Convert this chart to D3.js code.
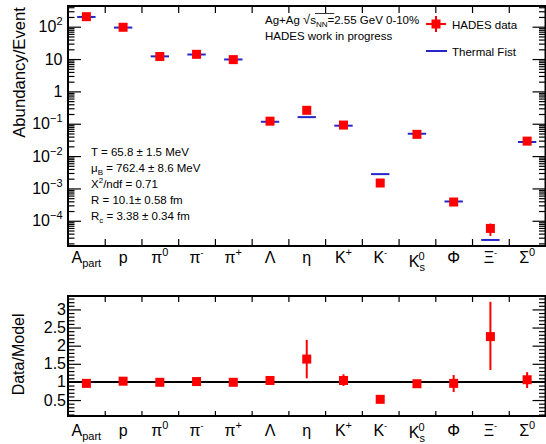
<!DOCTYPE html>
<html><head><meta charset="utf-8">
<script src="https://cdn.jsdelivr.net/npm/d3@7"></script>
<style>body{margin:0;background:#fff} svg{display:block} text{font-family:"Liberation Sans",Arial,Helvetica,sans-serif;fill:#000}</style>
</head><body><svg id="c" width="546" height="444"></svg>
<script>
// ---------------- data ----------------
const categories = ["Apart","p","pi0","pim","pip","Lambda","eta","Kp","Km","K0s","Phi","Xim","Sigma0"];
const catBase = ["A","p","π","π","π","Λ","η","K","K","K","Φ","Ξ","Σ"];
const catSup  = ["","","0","-","+","","","+","-","0","","-","0"];
const catSub  = ["part","","","","","","","","","s","","",""];

const dataYield = [204, 96, 12.0, 14.0, 9.6, 0.12, 0.26, 0.091, 0.00147, 0.047, 0.00038, 0.000058, 0.029];
const dataErr   = [4, 2, 0.4, 0.4, 0.3, 0.005, 0.05, 0.006, 0.0001, 0.002, 0.00003, 0.000024, 0.003];
const modelYield= [200, 94, 12.1, 13.8, 9.7, 0.115, 0.16, 0.087, 0.00277, 0.049, 0.000395, 0.0000255, 0.0272];

const ratio      = [0.96, 1.02, 0.99, 1.01, 0.99, 1.04, 1.63, 1.04, 0.52, 0.95, 0.96, 2.25, 1.06];
const ratioErrHi = [0.02, 0.02, 0.02, 0.02, 0.02, 0.03, 0.53, 0.17, 0.02, 0.03, 0.23, 0.96, 0.21];
const ratioErrLo = [0.02, 0.02, 0.02, 0.02, 0.02, 0.03, 0.53, 0.15, 0.02, 0.03, 0.24, 0.92, 0.23];

const topTickVals = [1e-4, 1e-3, 1e-2, 1e-1, 1, 10, 100];
const topTickBase = ["10","10","10","10","1","10","10"];
const topTickExp  = ["\u22124","\u22123","\u22122","\u22121","","","2"];
const botTickVals = [0.5, 1, 1.5, 2, 2.5, 3];
const botTickLabels = ["0.5","1","1.5","2","2.5","3"];

const fitLines = [
  {t:"T = 65.8 \u00b1 1.5 MeV"},
  {t:"\u03bc", sub:"B", rest:" = 762.4 \u00b1 8.6 MeV"},
  {t:"X", sup:"2", rest:"/ndf = 0.71"},
  {t:"R = 10.1\u00b1 0.58 fm"},
  {t:"R", sub:"c", rest:" = 3.38 \u00b1 0.34 fm"}
];

// ---------------- layout ----------------
const svg = d3.select("#c");
const L = 68, R = 545.5;
const T1 = 6, B1 = 246, T2 = 296, B2 = 416;
const RED = "#ff0000", BLUE = "#2626c8";

const xBand = d3.scaleBand().domain(categories).range([L, R]);
const xLin = d3.scaleLinear().domain([0, categories.length]).range([L, R]);
const cx = i => xBand(categories[i]) + xBand.bandwidth()/2;
const bw = xBand.bandwidth();

const yTop = d3.scaleLog().domain([Math.pow(10,-4.78), Math.pow(10,2.64)]).range([B1, T1]);
const yBot = d3.scaleLinear().domain([0.06, 3.37]).range([B2, T2]);

function styleAxis(g, w){ g.select(".domain").remove(); g.selectAll("line").attr("stroke","#000").attr("stroke-width",w||1.2); g.selectAll("text").remove(); }

const minorTop = [];
for (let e=-5; e<=2; e++) for (let m=2; m<=9; m++){ const v=m*Math.pow(10,e); if (v>=yTop.domain()[0] && v<=yTop.domain()[1]) minorTop.push(v); }
svg.append("g").attr("transform",`translate(${L},0)`).call(d3.axisRight(yTop).tickValues(topTickVals).tickSize(13).tickFormat("")).call(styleAxis);
svg.append("g").attr("transform",`translate(${L},0)`).call(d3.axisRight(yTop).tickValues(minorTop).tickSize(6.5).tickFormat("")).call(styleAxis);
svg.append("g").attr("transform",`translate(${R},0)`).call(d3.axisLeft(yTop).tickValues(topTickVals).tickSize(13).tickFormat("")).call(styleAxis);
svg.append("g").attr("transform",`translate(${R},0)`).call(d3.axisLeft(yTop).tickValues(minorTop).tickSize(6.5).tickFormat("")).call(styleAxis);
const edges = d3.range(1, categories.length);
svg.append("g").attr("transform",`translate(0,${B1})`).call(d3.axisTop(xLin).tickValues(edges).tickSize(7).tickFormat("")).call(styleAxis);
svg.append("g").attr("transform",`translate(0,${T1})`).call(d3.axisBottom(xLin).tickValues(edges).tickSize(7).tickFormat("")).call(styleAxis);

const minorBot = d3.range(1, 34).map(d=>d/10).filter(v=>v>=0.06 && v<=3.37 && Math.abs(v*2-Math.round(v*2))>1e-6);
svg.append("g").attr("transform",`translate(${L},0)`).call(d3.axisRight(yBot).tickValues(botTickVals).tickSize(13).tickFormat("")).call(styleAxis);
svg.append("g").attr("transform",`translate(${L},0)`).call(d3.axisRight(yBot).tickValues(minorBot).tickSize(6.5).tickFormat("")).call(styleAxis);
svg.append("g").attr("transform",`translate(${R},0)`).call(d3.axisLeft(yBot).tickValues(botTickVals).tickSize(13).tickFormat("")).call(styleAxis);
svg.append("g").attr("transform",`translate(${R},0)`).call(d3.axisLeft(yBot).tickValues(minorBot).tickSize(6.5).tickFormat("")).call(styleAxis);
svg.append("g").attr("transform",`translate(0,${B2})`).call(d3.axisTop(xLin).tickValues(edges).tickSize(5).tickFormat("")).call(styleAxis);
svg.append("g").attr("transform",`translate(0,${T2})`).call(d3.axisBottom(xLin).tickValues(edges).tickSize(6).tickFormat("")).call(styleAxis);

[[T1,B1],[T2,B2]].forEach(([t,b])=>{
  svg.append("rect").attr("x",L).attr("y",t).attr("width",R-L).attr("height",b-t)
    .attr("fill","none").attr("stroke","#000").attr("stroke-width",2);
});

topTickVals.forEach((v,i)=>{
  const t = svg.append("text").attr("x",62.5).attr("y",yTop(v)+5.5).attr("text-anchor","end").attr("font-size",16);
  t.append("tspan").text(topTickBase[i]);
  if (topTickExp[i]) t.append("tspan").attr("font-size",11).attr("dy",-7).text(topTickExp[i]);
});
botTickVals.forEach((v,i)=>{
  svg.append("text").attr("x",66).attr("y",yBot(v)+5.5).attr("text-anchor","end").attr("font-size",16).text(botTickLabels[i]);
});

function xLabels(base, kShift, subDy){
  categories.forEach((c,i)=>{
    const extra = catSub[i]==="s" ? kShift : 0;
    const t = svg.append("text").attr("x",cx(i)).attr("y",base+extra).attr("text-anchor","middle").attr("font-size",16);
    t.append("tspan").text(catBase[i]);
    if (catSub[i] && catSup[i]){
      t.append("tspan").attr("font-size",11).attr("dy",subDy).text(catSub[i]);
      t.append("tspan").attr("font-size",11).attr("dx",-6.5).attr("dy",-subDy-7).text(catSup[i]);
    } else if (catSub[i]) {
      t.append("tspan").attr("font-size",11).attr("dy",4).text(catSub[i]);
    } else if (catSup[i]) {
      t.append("tspan").attr("font-size",catSup[i]==="-"?9:11).attr("dy",-7).text(catSup[i]);
    }
  });
}
xLabels(263, 4, 4);
xLabels(436, 1.5, 4);

svg.append("text").attr("transform",`translate(25,${T1+1}) rotate(-90)`).attr("text-anchor","end").attr("font-size",16.7).text("Abundancy/Event");
svg.append("text").attr("transform",`translate(24,${T2+17.5}) rotate(-90)`).attr("text-anchor","end").attr("font-size",16).text("Data/Model");

svg.append("g").selectAll("line").data(modelYield).join("line")
  .attr("x1",(d,i)=>cx(i)-bw/4).attr("x2",(d,i)=>cx(i)+bw/4)
  .attr("y1",d=>yTop(d)).attr("y2",d=>yTop(d))
  .attr("stroke",BLUE).attr("stroke-width",2);

svg.append("g").selectAll("line").data(dataYield).join("line")
  .attr("x1",(d,i)=>cx(i)).attr("x2",(d,i)=>cx(i))
  .attr("y1",(d,i)=>yTop(d+dataErr[i])).attr("y2",(d,i)=>yTop(Math.max(d-dataErr[i], 1e-7)))
  .attr("stroke",RED).attr("stroke-width",2);
const MS = 9;
svg.append("g").selectAll("rect").data(dataYield).join("rect")
  .attr("x",(d,i)=>cx(i)-MS/2).attr("y",d=>yTop(d)-MS/2).attr("width",MS).attr("height",MS)
  .attr("fill",RED);

svg.append("line").attr("x1",L).attr("x2",R).attr("y1",yBot(1)).attr("y2",yBot(1)).attr("stroke","#000").attr("stroke-width",2);
svg.append("g").selectAll("line").data(ratio).join("line")
  .attr("x1",(d,i)=>cx(i)).attr("x2",(d,i)=>cx(i))
  .attr("y1",(d,i)=>yBot(d+ratioErrHi[i])).attr("y2",(d,i)=>yBot(d-ratioErrLo[i]))
  .attr("stroke",RED).attr("stroke-width",2);
svg.append("g").selectAll("rect").data(ratio).join("rect")
  .attr("x",(d,i)=>cx(i)-MS/2).attr("y",d=>yBot(d)-MS/2).attr("width",MS).attr("height",MS)
  .attr("fill",RED);

const hx = 265;
const h1 = svg.append("text").attr("x",hx).attr("y",24).attr("font-size",11.5);
h1.append("tspan").text("Ag+Ag ");
h1.append("tspan").attr("font-size",13).text("\u221a");
h1.append("tspan").text("s");
h1.append("tspan").attr("font-size",8).attr("dy",2.5).text("NN");
h1.append("tspan").attr("dy",-2.5).text("=2.55 GeV 0-10%");
{
  const n = h1.node();
  try {
    const startX = n.getExtentOfChar(7).x + n.getExtentOfChar(7).width - 1;
    const endX = n.getExtentOfChar(11).x;
    svg.append("line").attr("x1",startX).attr("x2",endX).attr("y1",13.5).attr("y2",13.5).attr("stroke","#000").attr("stroke-width",0.8);
  } catch(e){}
}
svg.append("text").attr("x",hx).attr("y",40).attr("font-size",11.5).text("HADES work in progress");

const lgx = 436, lgy1 = 24, lgy2 = 51;
svg.append("line").attr("x1",426).attr("x2",446).attr("y1",lgy1).attr("y2",lgy1).attr("stroke",RED).attr("stroke-width",2);
svg.append("line").attr("x1",lgx).attr("x2",lgx).attr("y1",lgy1-8).attr("y2",lgy1+8).attr("stroke",RED).attr("stroke-width",2);
svg.append("rect").attr("x",lgx-MS/2).attr("y",lgy1-MS/2).attr("width",MS).attr("height",MS).attr("fill",RED);
svg.append("text").attr("x",452).attr("y",lgy1+4.5).attr("font-size",11.5).text("HADES data");
svg.append("line").attr("x1",426).attr("x2",447).attr("y1",lgy2).attr("y2",lgy2).attr("stroke",BLUE).attr("stroke-width",2);
svg.append("text").attr("x",452).attr("y",lgy2+4.5).attr("font-size",11.5).text("Thermal Fist");

fitLines.forEach((f,i)=>{
  const t = svg.append("text").attr("x",91).attr("y",155.5+16*i).attr("font-size",11.5);
  t.append("tspan").text(f.t);
  if (f.sub){ t.append("tspan").attr("font-size",8).attr("dy",3).text(f.sub); t.append("tspan").attr("dy",-3).text(f.rest); }
  else if (f.sup){ t.append("tspan").attr("font-size",8).attr("dy",-5).text(f.sup); t.append("tspan").attr("dy",5).text(f.rest); }
});
</script></body></html>
